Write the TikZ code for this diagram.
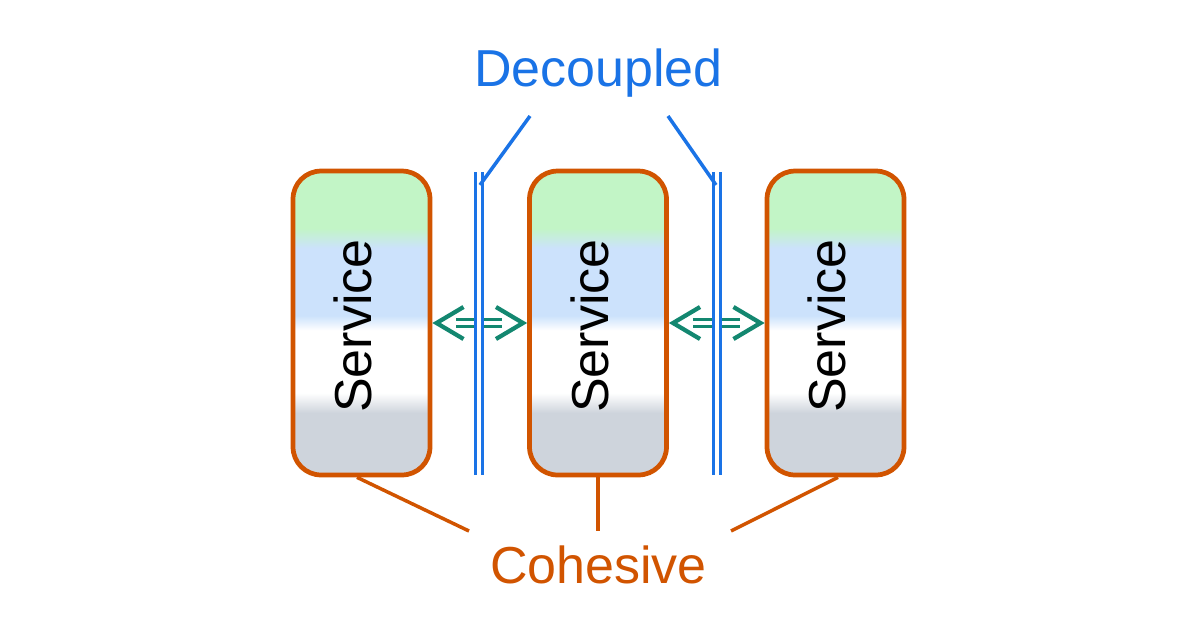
\documentclass[tikz,border=0pt]{standalone}
\usepackage{fontspec}
\setmainfont{Liberation Sans}
\usetikzlibrary{arrows.meta,calc}
\usepackage{xcolor}

\definecolor{svcgreen}{RGB}{194,245,198}
\definecolor{svcblue}{RGB}{204,226,252}
\definecolor{svcgray}{RGB}{206,212,220}
\definecolor{cohorange}{RGB}{209,84,0}
\definecolor{decblue}{RGB}{26,115,230}
\definecolor{linkteal}{RGB}{19,135,112}

\pgfdeclareverticalshading{svcfill}{100bp}{color(0bp)=(svcgray); color(35.2bp)=(svcgray);
	color(38.5bp)=(white); color(48.8bp)=(white); color(51.2bp)=(svcblue);
	color(62.3bp)=(svcblue); color(65.6bp)=(svcgreen); color(100bp)=(svcgreen)}

\tikzset{
	service/.style={draw=cohorange, line width=0.095cm, rounded corners=0.56cm,
		minimum width=2.74cm, minimum height=6.08cm, shade, shading=svcfill, inner sep=0pt},
	bigtext/.style={font=\fontsize{29.6pt}{34pt}\selectfont, inner sep=0pt, anchor=base},
	svctext/.style={bigtext, rotate=90},
	linktips/.style={draw=linkteal, line width=0.085cm, dash pattern=on 0pt off 20cm,
		{Straight Barb[length=0.54cm,width=0.64cm]}-{Straight Barb[length=0.54cm,width=0.64cm]}},
	linkshaft/.style={draw=linkteal, line width=0.065cm, double=white, double distance=0.075cm,
		shorten <=0.48cm, shorten >=0.5cm},
	wall/.style={draw=decblue, line width=0.06cm, double=white, double distance=0.08cm},
	decline/.style={draw=decblue, line width=0.07cm},
	cohline/.style={draw=cohorange, line width=0.07cm}
}

\begin{document}
\begin{tikzpicture}[x=0.02cm,y=-0.02cm]
	\useasboundingbox (0,0) rectangle (1200,630);

	% services
	\foreach \i/\x in {1/361.5, 2/598, 3/835.5}
		{
		\node[service] (s\i) at (\x,323) {};
		\node[svctext] (t\i) at ([xshift=0.2cm,yshift=-0.06cm]s\i.center) {Service};
	};

	% labels
	\node[bigtext, text=decblue] (dec) at (598.5,86) {Decoupled};
	\node[bigtext, text=cohorange] (coh) at (598.5,583) {Cohesive};

	% messages between services
	\foreach \a/\b in {1/2, 2/3} {
		\draw[linkshaft] (s\a.east) -- (s\b.west);
		\draw[linktips] (s\a.east) -- (s\b.west);
	};

	% boundaries
	\foreach \n/\x/\px/\ex in {1/479/530/480, 2/716.5/668/716} {
		\coordinate (w\n t) at (\x,172);
		\coordinate (w\n b) at (\x,475);
		\coordinate (d\n) at (\px,116);
		\coordinate (e\n) at (\ex,185);
		\draw[wall] (w\n t) -- (w\n b);
		\draw[decline] (d\n) -- (e\n);
	};

	% cohesion pointers
	\foreach \i/\s/\x in {1/-0.09/469, 2/0/598, 3/0.05/731} {
		\coordinate (c\i) at (\x,531);
		\draw[cohline] ([xshift=\s cm]s\i.south) -- (c\i);
	};
\end{tikzpicture}
\end{document}
